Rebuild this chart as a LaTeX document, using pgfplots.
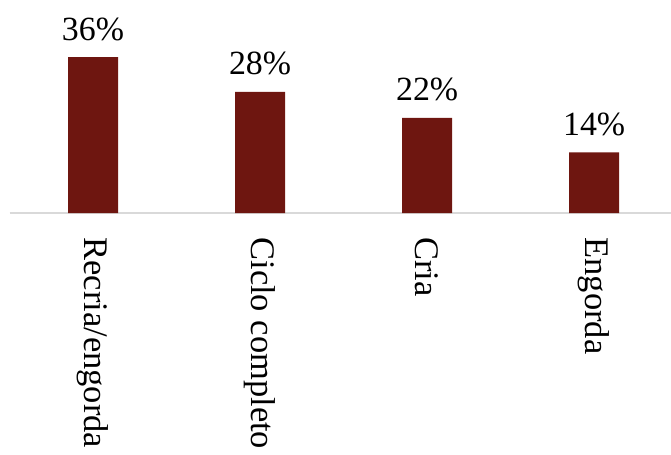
\documentclass[border=0pt]{standalone}
\usepackage{pgfplots}
\pgfplotsset{compat=1.18}
\usepackage{fontspec}
\setmainfont{Liberation Serif}
\definecolor{barred}{RGB}{110,22,16}
\begin{document}
\begin{tikzpicture}
\begin{axis}[
  x=83.5bp, y=2.165bp,
  xmin=-0.5, xmax=3.46, ymin=0, ymax=40,
  ybar, bar width=25bp,
  axis y line=none,
  axis x line*=bottom,
  x axis line style={draw=gray!30, line width=1bp},
  xtick={0,1,2,3},
  xticklabels={Recria/engorda, Ciclo completo, Cria, Engorda},
  major tick length=0pt,
  xticklabel shift=12bp,
  xticklabel style={rotate=-90, anchor=west, inner sep=0pt, font=\fontsize{17.3}{19}\selectfont},
  /pgf/number format/assume math mode=true,
  nodes near coords={\pgfmathprintnumber{\pgfplotspointmeta}\%},
  nodes near coords style={font=\fontsize{17}{19}\selectfont, anchor=base, yshift=8.5bp, inner sep=0pt, text=black},
  clip=false,
]
\addplot[fill=barred, draw=none] coordinates {(0,36) (1,28) (2,22) (3,14)};
\coordinate (bl) at (axis cs:-0.557,-55.66);
\coordinate (tr) at (axis cs:3.46,49.2);
\end{axis}
\pgfresetboundingbox
\path[use as bounding box] (bl) rectangle (tr);
\end{tikzpicture}
\end{document}
